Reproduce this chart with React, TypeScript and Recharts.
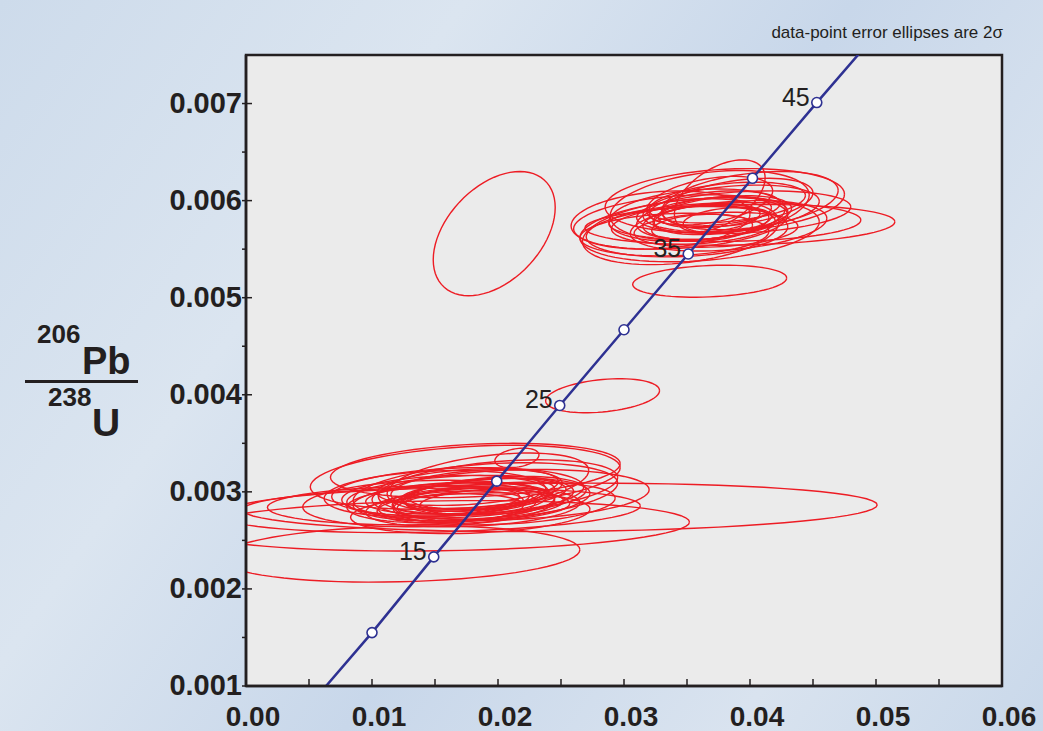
import { ComposedChart, Line, Scatter, XAxis, YAxis, CartesianGrid, ReferenceArea } from 'recharts'

// concordia ages (Ma) with the 207/235 and 206/238 ratios
const ages = [5, 10, 15, 20, 25, 30, 35, 40, 45, 50]
const concX = [0.0049, 0.01, 0.0149, 0.0199, 0.0249, 0.03, 0.0351, 0.0402, 0.0453, 0.0505]
const concY = [0.00078, 0.00155, 0.00233, 0.00311, 0.00389, 0.00467, 0.00545, 0.00623, 0.00701, 0.00779]
const labelledAges = [15, 25, 35, 45]

const xTicks = [0, 0.005, 0.01, 0.015, 0.02, 0.025, 0.03, 0.035, 0.04, 0.045, 0.05, 0.055, 0.06]
const yTicks = [0.001, 0.0015, 0.002, 0.0025, 0.003, 0.0035, 0.004, 0.0045, 0.005, 0.0055, 0.006, 0.0065, 0.007]

// error ellipses: [x, y, 2s x, 2s y, rho]
const isolated = [
    [0.0197, 0.00566, 0.00484, 0.00064, 0.42],
    [0.0368, 0.00517, 0.00611, 0.000165, 0.2],
    [0.0283, 0.00399, 0.00452, 0.000175, 0.3],
]

const lowerCluster = [
    [0.0249, 0.00284, 0.0252, 0.00025, 0.1],
    [0.0122, 0.00236, 0.0143, 0.00029, 0.15],
    [0.0154, 0.00265, 0.0198, 0.00026, 0.15],
    [0.0146, 0.00281, 0.0167, 0.00023, 0.2],
    [0.0174, 0.00315, 0.0123, 0.00033, 0.3],
    [0.0182, 0.00322, 0.0115, 0.00028, 0.25],
    [0.019, 0.003, 0.0105, 0.0003, 0.3],
    [0.017, 0.00295, 0.009, 0.00022, 0.25],
    [0.0165, 0.0029, 0.008, 0.0002, 0.2],
    [0.0175, 0.00288, 0.007, 0.00018, 0.3],
    [0.016, 0.00293, 0.0065, 0.00016, 0.2],
    [0.0185, 0.00297, 0.006, 0.00017, 0.35],
    [0.0155, 0.00287, 0.0075, 0.00019, 0.15],
    [0.0195, 0.00292, 0.0078, 0.00022, 0.3],
    [0.0168, 0.003, 0.01, 0.00025, 0.2],
    [0.018, 0.00284, 0.0085, 0.0002, 0.25],
    [0.015, 0.00298, 0.0088, 0.00024, 0.2],
    [0.02, 0.00305, 0.0095, 0.00028, 0.35],
    [0.0162, 0.00283, 0.0058, 0.00015, 0.2],
    [0.0188, 0.0029, 0.005, 0.00013, 0.3],
    [0.0172, 0.00292, 0.0045, 0.00012, 0.25],
    [0.021, 0.00297, 0.011, 0.00026, 0.2],
    [0.0215, 0.00335, 0.00175, 0.0001, 0.3],
    [0.0192, 0.0031, 0.008, 0.0003, 0.4],
    [0.0145, 0.00288, 0.01, 0.00024, 0.15],
    [0.0137, 0.00286, 0.012, 0.0002, 0.1],
    [0.0178, 0.00278, 0.0095, 0.00021, 0.2],
    [0.0183, 0.00303, 0.0068, 0.0002, 0.3],
    [0.0178, 0.00296, 0.0055, 0.00014, 0.25],
    [0.0192, 0.00298, 0.0062, 0.00016, 0.3],
    [0.0168, 0.00289, 0.0052, 0.00012, 0.2],
    [0.0198, 0.00296, 0.0072, 0.0002, 0.3],
    [0.0176, 0.00305, 0.0072, 0.00019, 0.3],
    [0.0186, 0.00287, 0.0066, 0.00015, 0.25],
    [0.0158, 0.00296, 0.0082, 0.00021, 0.2],
    [0.0205, 0.00288, 0.0088, 0.00022, 0.25],
]

const upperCluster = [
    [0.0392, 0.00575, 0.0123, 0.00021, 0.15],
    [0.0329, 0.0058, 0.0071, 0.0003, 0.2],
    [0.0368, 0.00595, 0.0079, 0.00036, 0.3],
    [0.0376, 0.00605, 0.0036, 0.00037, 0.5],
    [0.036, 0.0057, 0.0095, 0.00033, 0.25],
    [0.038, 0.006, 0.0095, 0.00033, 0.2],
    [0.037, 0.00582, 0.006, 0.00022, 0.3],
    [0.0365, 0.00578, 0.005, 0.00018, 0.25],
    [0.0378, 0.00585, 0.0055, 0.0002, 0.35],
    [0.0385, 0.00592, 0.007, 0.00024, 0.3],
    [0.0355, 0.00575, 0.0065, 0.0002, 0.2],
    [0.0372, 0.00588, 0.0045, 0.00016, 0.3],
    [0.0362, 0.00572, 0.004, 0.00014, 0.2],
    [0.039, 0.00598, 0.006, 0.00025, 0.4],
    [0.035, 0.00568, 0.008, 0.00026, 0.2],
    [0.0395, 0.00588, 0.0085, 0.00022, 0.25],
    [0.034, 0.00565, 0.0075, 0.00022, 0.15],
    [0.0382, 0.0058, 0.0035, 0.00013, 0.3],
    [0.0368, 0.006, 0.005, 0.00025, 0.4],
    [0.04, 0.006, 0.007, 0.0003, 0.35],
    [0.0358, 0.00585, 0.007, 0.00027, 0.25],
    [0.0373, 0.0057, 0.0065, 0.00018, 0.2],
    [0.0388, 0.00578, 0.01, 0.0002, 0.1],
    [0.0372, 0.00592, 0.0052, 0.00018, 0.3],
    [0.0366, 0.00582, 0.0042, 0.00015, 0.3],
    [0.0382, 0.00598, 0.0062, 0.00021, 0.35],
    [0.0345, 0.00578, 0.0085, 0.00028, 0.25],
    [0.0383, 0.00574, 0.0078, 0.00026, 0.3],
    [0.0345, 0.00568, 0.0078, 0.00034, 0.3],
]

const FONT = 'Liberation Sans, Arial, Helvetica, sans-serif'
const RED = '#ed1c24'
const BLUE = '#2e3192'
const INK = '#231f20'

const outline = (e: number[]) => {
    const [cx, cy, sx, sy, rho] = e
    const k = Math.sqrt(1 - rho * rho)
    const pts = []
    for (let i = 0; i <= 72; i++) {
        const t = (i / 72) * Math.PI * 2
        pts.push({ x: cx + sx * Math.cos(t), y: cy + sy * (rho * Math.cos(t) + k * Math.sin(t)) })
    }
    return pts
}

const ellipses = [...lowerCluster, ...upperCluster, ...isolated].map(outline)
const concordia = ages.map((a, i) => ({ age: a, x: concX[i], y: concY[i] }))
const markers = concordia.filter(d => d.age >= 10 && d.age <= 45)

const XTick = (props: any) => {
    const { x, y, payload } = props
    const major = Math.round(payload.value * 1000) % 10 === 0
    return (
        <g>
            <line x1={x} x2={x} y1={y} y2={y - 7} stroke={INK} strokeWidth={1.5} />
            {major && (
                <text x={x + 7} y={y + 40} textAnchor="middle" fontSize={28} fontWeight="bold" fontFamily={FONT} fill={INK}>
                    {payload.value.toFixed(2)}
                </text>
            )}
        </g>
    )
}

const YTick = (props: any) => {
    const { x, y, payload } = props
    const major = Math.round(payload.value * 10000) % 10 === 0
    return (
        <g>
            <line x1={x - 4} x2={major ? x + 6 : x} y1={y} y2={y} stroke={INK} strokeWidth={1.5} />
            {major && (
                <text x={x - 4} y={y + 9} textAnchor="end" fontSize={29} fontWeight="bold" fontFamily={FONT} fill={INK}>
                    {payload.value.toFixed(3)}
                </text>
            )}
        </g>
    )
}

const Marker = (props: any) => {
    const { cx, cy, payload } = props
    return (
        <g>
            <circle cx={cx} cy={cy} r={5} fill="#fff" stroke={BLUE} strokeWidth={1.6} />
            {labelledAges.includes(payload.age) && (
                <text x={cx - 7} y={cy + 3} textAnchor="end" fontSize={25} fontFamily={FONT} fill={INK}>
                    {payload.age}
                </text>
            )}
        </g>
    )
}

export default function App() {
    return (
        <div style={{
            position: 'absolute', left: 0, top: 0, width: 1043, height: 731, overflow: 'hidden',
            background: 'linear-gradient(125deg, #cddbeb 0%, #dbe5f0 30%, #c8d7ea 55%, #d9e3ef 80%, #c9d8ea 100%)',
        }}>
            <ComposedChart width={1043} height={731} margin={{ top: 55, right: 41, bottom: 0, left: 0 }}>
                <CartesianGrid horizontal={false} vertical={false} fill="#ebebeb" fillOpacity={1} />
                <XAxis type="number" dataKey="x" domain={[0, 0.06]} ticks={xTicks} interval={0} allowDataOverflow
                    height={45} tickSize={0} tickMargin={0} tick={<XTick />} axisLine={{ stroke: INK, strokeWidth: 2.5 }} />
                <YAxis type="number" dataKey="y" domain={[0.001, 0.0075]} ticks={yTicks} interval={0} allowDataOverflow
                    width={246} tickSize={0} tickMargin={0} tick={<YTick />} axisLine={{ stroke: INK, strokeWidth: 2.5 }} />
                {ellipses.map((pts, i) => (
                    <Line key={'e' + i} data={pts} dataKey="y" type="linear" stroke={RED} strokeWidth={1.4}
                        dot={false} activeDot={false} isAnimationActive={false} />
                ))}
                <Line data={concordia} dataKey="y" type="linear" stroke={BLUE} strokeWidth={2.5}
                    dot={false} activeDot={false} isAnimationActive={false} />
                <Scatter data={markers} dataKey="y" shape={<Marker />} isAnimationActive={false} />
                <ReferenceArea x1={0} x2={0.06} y1={0.001} y2={0.0075} fill="none" stroke={INK} strokeWidth={2.5} />
            </ComposedChart>
            <svg width={1043} height={731} style={{ position: 'absolute', left: 0, top: 0, pointerEvents: 'none' }}>
                <text x={1003} y={38} textAnchor="end" fontSize={17} fontFamily={FONT} fill={INK}>
                    data-point error ellipses are 2σ
                </text>
                <g fontFamily={FONT} fontWeight="bold" fill={INK}>
                    <text x={37} y={343} fontSize={26}>206</text>
                    <text x={82} y={374} fontSize={38}>Pb</text>
                    <rect x={25} y={380} width={113} height={3} />
                    <text x={48} y={406} fontSize={26}>238</text>
                    <text x={92} y={436} fontSize={39}>U</text>
                </g>
            </svg>
        </div>
    )
}
